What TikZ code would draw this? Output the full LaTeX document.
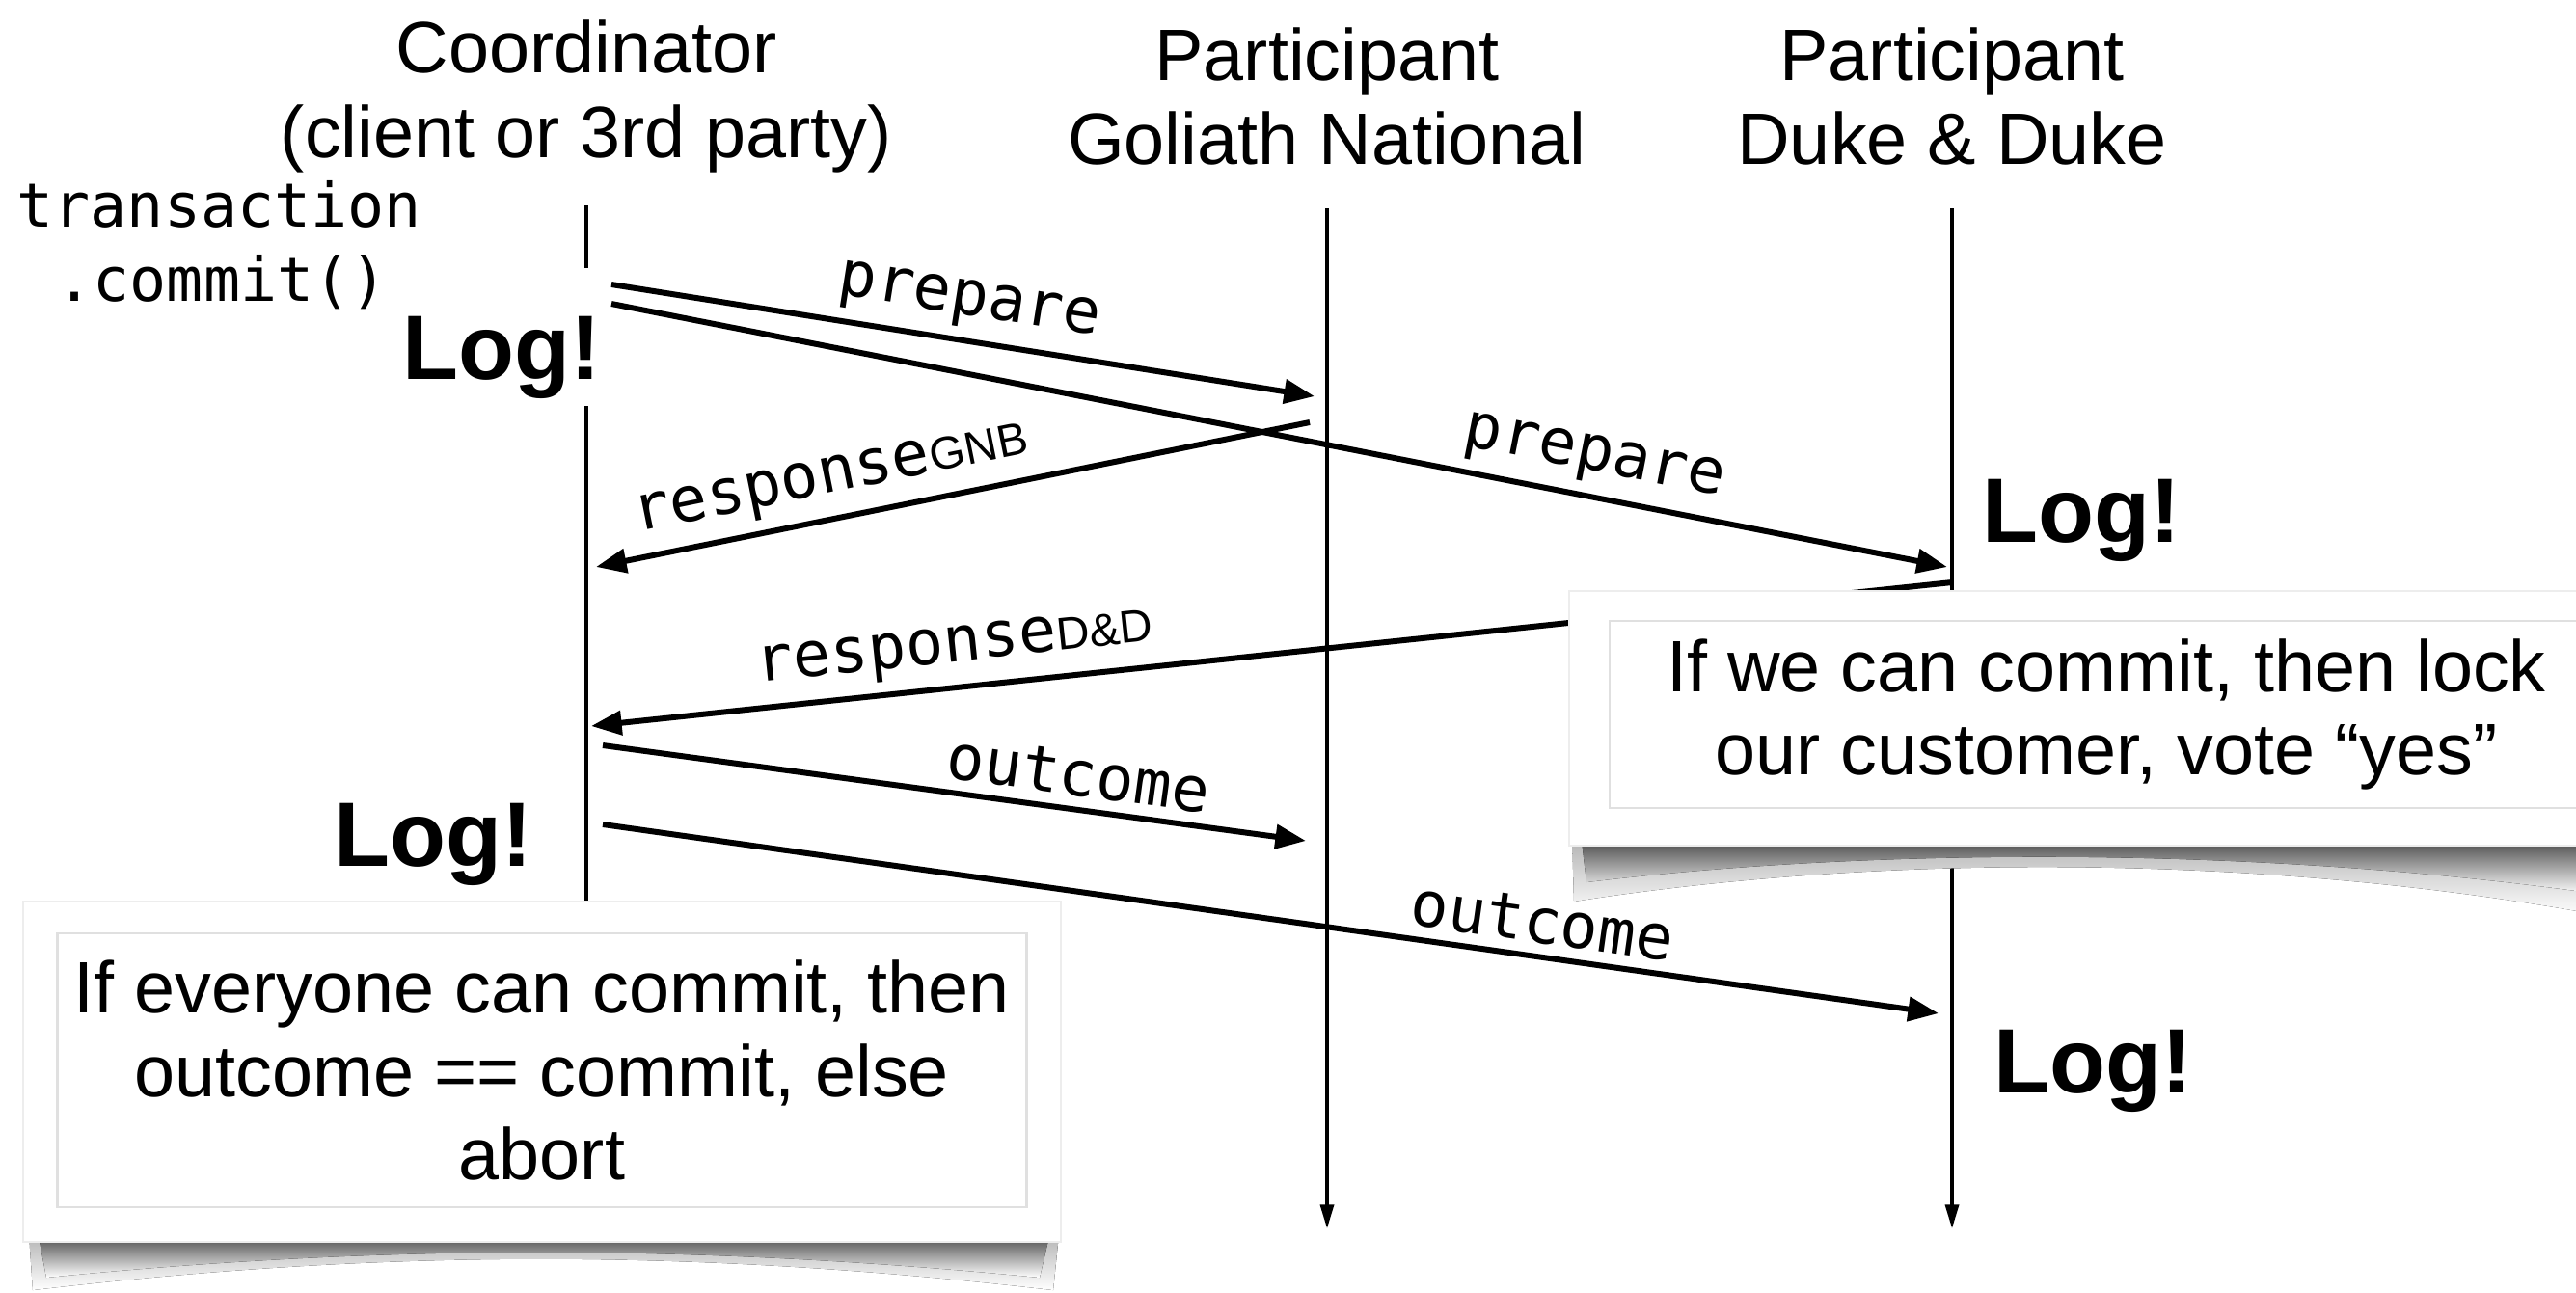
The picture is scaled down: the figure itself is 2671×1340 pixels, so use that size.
\documentclass[tikz,border=0pt]{standalone}
\usepackage{fontspec}
\setmainfont{Liberation Sans}
\setmonofont{DejaVu Sans Mono}
\usepackage{tikz}
\usetikzlibrary{positioning}
\usetikzlibrary{arrows.meta}

\newcommand{\msgsub}[1]{{\rmfamily\fontsize{13.5}{13.5}\selectfont #1}}

\begin{document}
\begin{tikzpicture}[x=0.1mm, y=-0.1mm,
		lifeline/.style={line width=0.9pt, black},
		msg/.style={line width=1.7pt, -{Triangle[length=9pt, width=7pt]}},
		msglabel/.style={font=\ttfamily\fontsize{18.5}{20}\selectfont, sloped, above, inner sep=3pt},
		code/.style={font=\ttfamily\fontsize{18}{20}\selectfont, inner sep=0pt},
		header/.style={font=\fontsize{21.5}{25}\selectfont, align=center},
		logtext/.style={font=\bfseries\fontsize{27}{30}\selectfont, inner sep=0pt},
		notetext/.style={font=\fontsize{21.5}{24.5}\selectfont, align=center, draw=black!12, line width=0.8pt, fill=white},
		card/.style={fill=white, draw=black!7, line width=0.6pt},
		curlsoft/.style={top color=black!30, bottom color=white},
		curl/.style={top color=black!70, bottom color=white}]

		\useasboundingbox (0,0) rectangle (2671,1340);

		% Lifeline ends
		\coordinate (ctop) at (608,213);
		\coordinate (cgapA) at (608,278);
		\coordinate (cgapB) at (608,421);
		\coordinate (cbot) at (608,980);
		\coordinate (gtop) at (1376,216);
		\coordinate (gbot) at (1376,1274);
		\coordinate (dtop) at (2024,216);
		\coordinate (dbot) at (2024,1274);

		% Draw lifelines
		\draw[lifeline] (ctop) -- (cgapA);
		\draw[lifeline] (cgapB) -- (cbot);
		\draw[lifeline, -{Triangle[length=7pt, width=4pt]}] (gtop) -- (gbot);
		\draw[lifeline, -{Triangle[length=7pt, width=4pt]}] (dtop) -- (dbot);

		% Message end points
		\coordinate (p1s) at (634,295);
		\coordinate (p1e) at (1363,411);
		\coordinate (p2s) at (634,315);
		\coordinate (p2e) at (2019,588);
		\coordinate (r1s) at (1358,438);
		\coordinate (r1e) at (618,588);
		\coordinate (r2s) at (2024,604);
		\coordinate (r2e) at (613,753);
		\coordinate (o1s) at (625,773);
		\coordinate (o1e) at (1354,872);
		\coordinate (o2s) at (625,855);
		\coordinate (o2e) at (2010,1051);

		% Draw messages
		\draw[msg] (p1s) -- node[msglabel, pos=0.5] (lprep1) {prepare} (p1e);
		\draw[msg] (p2s) -- node[msglabel, pos=0.73] (lprep2) {prepare} (p2e);
		\draw[msg] (r1s) -- node[msglabel, pos=0.66] (lresp1) {response\msgsub{GNB}} (r1e);
		\draw[msg] (r2s) -- node[msglabel, pos=0.73] (lresp2) {response\msgsub{D\&D}} (r2e);
		\draw[msg] (o1s) -- node[msglabel, pos=0.67] (lout1) {outcome} (o1e);
		\draw[msg] (o2s) -- node[msglabel, pos=0.70] (lout2) {outcome} (o2e);

		% Headers
		\node[header] (hcoord) at (608,100) {Coordinator\\(client or 3rd party)};
		\node[header] (hgnb) at (1376,100) {Participant\\Goliath National};
		\node[header] (hdd) at (2024,100) {Participant\\Duke \& Duke};

		% Client call
		\node[code, anchor=base west] (txn) at (17,235) {transaction};
		\node[code, anchor=base west] (commit) at (58,312) {.commit()};

		% Log points
		\node[logtext, anchor=base] (log1) at (520,393) {Log!};
		\node[logtext, anchor=base] (log2) at (2158,562) {Log!};
		\node[logtext, anchor=base] (log3) at (449,898) {Log!};
		\node[logtext, anchor=base] (log4) at (2170,1133) {Log!};

		% Note of the participant
		\fill[curlsoft] (1630,870) -- (1632,935) .. controls (1950,885) and (2350,885) .. (2700,950) -- (2700,870) -- cycle;
		\fill[curl] (1640,872) -- (1645,915) .. controls (1950,878) and (2350,878) .. (2700,928) -- (2700,872) -- cycle;
		\draw[card] (1627,613) rectangle (2700,877);
		\node[notetext, minimum width=103mm, minimum height=19.4mm] (notedd) at (2184,741) {If we can commit, then lock\\our customer, vote “yes”};

		% Note of the coordinator
		\fill[curlsoft] (30,1280) -- (34,1338) .. controls (400,1295) and (720,1295) .. (1092,1338) -- (1098,1280) -- cycle;
		\fill[curl] (40,1282) -- (48,1325) .. controls (400,1290) and (720,1290) .. (1078,1325) -- (1088,1282) -- cycle;
		\draw[card] (24,935) rectangle (1100,1288);
		\node[notetext, minimum width=100.5mm, minimum height=28.4mm] (notecoord) at (562,1110) {If everyone can commit, then\\outcome == commit, else\\abort};
	\end{tikzpicture}
\end{document}
